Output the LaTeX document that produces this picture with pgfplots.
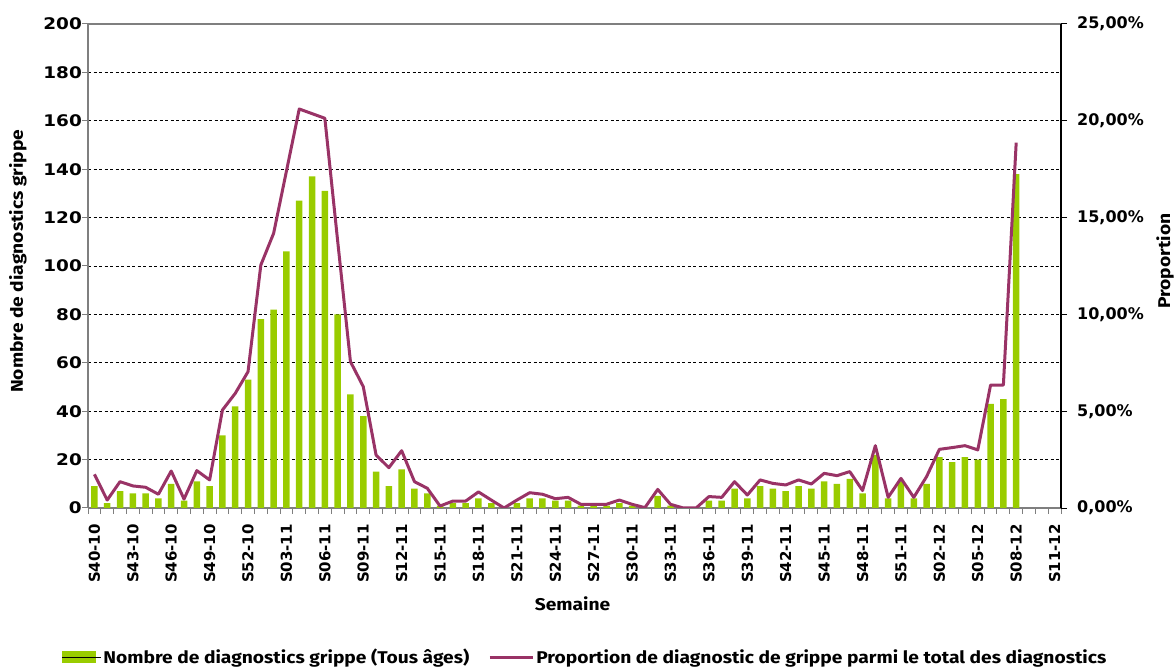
\documentclass[border=0pt]{standalone}
\usepackage{fontspec}
\setmainfont{Fira Sans}[FakeStretch=1.13]
\newfontfamily\tickfont{DejaVu Sans}
\newfontfamily\tickfontwide{DejaVu Sans}[FakeStretch=1.15]
\usepackage{pgfplots}
\usepackage{pgfplotstable}
\pgfplotsset{compat=1.18}
\definecolor{barg}{HTML}{99CC00}
\definecolor{linep}{HTML}{993366}
\definecolor{axgray}{HTML}{7F7F7F}

\pgfplotstableread{
i n p
0 9 1.74
1 2 0.41
2 7 1.36
3 6 1.14
4 6 1.07
5 4 0.71
6 10 1.91
7 3 0.46
8 11 1.93
9 9 1.45
10 30 5.06
11 42 5.92
12 53 7.04
13 78 12.55
14 82 14.19
15 106 17.4
16 127 20.61
17 137 20.37
18 131 20.13
19 80 13.8
20 47 7.56
21 38 6.27
22 15 2.74
23 9 2.08
24 16 2.96
25 8 1.36
26 6 1.02
27 1 0.10
28 2 0.36
29 2 0.36
30 4 0.83
31 2 0.41
32 0 0.0
33 2 0.41
34 4 0.79
35 4 0.71
36 3 0.48
37 3 0.55
38 1 0.19
39 1 0.19
40 1 0.19
41 2 0.41
42 1 0.19
43 0 0.02
44 5 0.96
45 1 0.19
46 0 0.0
47 0 0.0
48 3 0.59
49 3 0.55
50 8 1.36
51 4 0.67
52 9 1.45
53 8 1.27
54 7 1.19
55 9 1.45
56 8 1.24
57 11 1.79
58 10 1.67
59 12 1.88
60 6 0.90
61 22 3.22
62 4 0.55
63 11 1.53
64 4 0.55
65 10 1.62
66 21 3.03
67 19 3.12
68 21 3.22
69 20 3.00
70 43 6.35
71 45 6.35
72 138 18.87
}\datatable

\begin{document}
\begin{tikzpicture}
\useasboundingbox (0bp,0bp) rectangle (1174bp,668bp);
\begin{axis}[
  at={(88bp,160bp)}, anchor=south west,
  scale only axis, width=973bp, height=484bp,
  xmin=-0.5, xmax=75.5, ymin=0, ymax=200,
  axis x line*=bottom, axis y line*=left,
  x axis line style={draw=axgray, line width=1.2bp, -},
  y axis line style={draw=axgray, line width=1.2bp, -},
  tick align=outside,
  major tick length=6bp,
  ytick={0,20,...,200},
  ytick style={draw=axgray, line width=1bp},
  ymajorgrids,
  major grid style={draw=black, line width=0.8bp, dash pattern=on 3bp off 2.5bp},
  xtick={0,3,...,75},
  xticklabels={S40-10,S43-10,S46-10,S49-10,S52-10,S03-11,S06-11,S09-11,S12-11,S15-11,S18-11,S21-11,S24-11,S27-11,S30-11,S33-11,S36-11,S39-11,S42-11,S45-11,S48-11,S51-11,S02-12,S05-12,S08-12,S11-12},
  xtick style={draw=none},
  extra x ticks={-0.5,0.5,...,75.5},
  extra x tick labels={},
  extra x tick style={xtick style={draw=axgray, line width=1bp}, grid=none},
  xticklabel style={rotate=90, anchor=east, inner sep=0pt, xshift=-10bp, font=\tickfont\bfseries\fontsize{15bp}{18bp}\selectfont},
  yticklabel style={anchor=east, inner sep=0pt, font=\tickfontwide\bfseries\fontsize{16bp}{19bp}\selectfont},
  /pgf/number format/assume math mode=true,
  ylabel={Nombre de diagnostics grippe},
  every axis y label/.style={at={(axis description cs:-0.072,0.51)}, rotate=90, anchor=center, font=\bfseries\fontsize{17bp}{20bp}\selectfont},
  xlabel={Semaine},
  every axis x label/.style={at={(axis description cs:0.498,-0.198)}, anchor=center, font=\bfseries\fontsize{17bp}{20bp}\selectfont},
]
\addplot[ybar, bar width=6.5bp, fill=barg, draw=none] table[x=i,y=n]{\datatable};
\draw[axgray, line width=1.2bp] (axis cs:-0.5,200) -- (axis cs:75.5,200);
\end{axis}
\begin{axis}[
  at={(88bp,160bp)}, anchor=south west,
  scale only axis, width=973bp, height=484bp,
  xmin=-0.5, xmax=75.5, ymin=0, ymax=25,
  axis x line=none, axis y line*=right,
  y axis line style={draw=black, line width=1.2bp, -},
  tick align=outside, major tick length=6bp,
  ytick={0,5,...,25},
  yticklabels={{0,00\%},{5,00\%},{10,00\%},{15,00\%},{20,00\%},{25,00\%}},
  ytick style={draw=black, line width=1bp},
  yticklabel style={anchor=west, inner sep=0pt, xshift=10bp, font=\tickfont\bfseries\fontsize{16bp}{19bp}\selectfont},
  ylabel={Proportion},
  every axis y label/.style={at={(axis description cs:1.107,0.51)}, rotate=90, anchor=center, font=\bfseries\fontsize{17bp}{20bp}\selectfont},
  legend columns=2,
  legend cell align=left,
  legend style={at={(axis description cs:-0.0267,-0.308)}, anchor=west, draw=none, fill=none, inner sep=0pt, outer sep=0pt,
    font=\bfseries\fontsize{17bp}{20bp}\selectfont,
    /tikz/every even column/.append style={column sep=17bp}},
]
\addlegendimage{legend image code/.code={\fill[barg] (0bp,-5.5bp) rectangle (33bp,5.5bp); \path (0bp,0bp) -- (39bp,0bp);}}
\addlegendentry{Nombre de diagnostics grippe (Tous âges)}
\addplot[linep, line width=3bp, line join=round, mark=none, legend image code/.code={\draw[linep, line width=3bp] (0bp,0bp) -- (37bp,0bp); \path (0bp,0bp) -- (43bp,0bp);}] table[x=i,y=p]{\datatable};
\addlegendentry{Proportion de diagnostic de grippe parmi le total des diagnostics}
\end{axis}
\end{tikzpicture}
\end{document}
